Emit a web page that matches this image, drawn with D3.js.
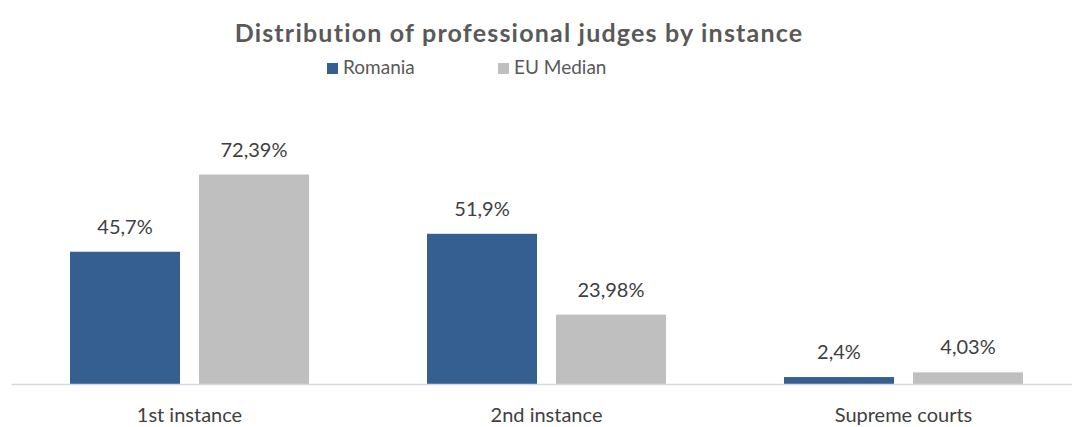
<!DOCTYPE html>
<html>
<head>
<meta charset="utf-8">
<script src="https://cdn.jsdelivr.net/npm/d3@7"></script>
<style>
  body { margin: 0; background: #fff; }
  text { font-family: Lato, "Open Sans", sans-serif; }
</style>
</head>
<body>
<div id="chart"></div>
<script>
const categories = ["1st instance", "2nd instance", "Supreme courts"];
const seriesNames = ["Romania", "EU Median"];
const romania = [45.7, 51.9, 2.4];
const euMedian = [72.39, 23.98, 4.03];
const romaniaLabels = ["45,7%", "51,9%", "2,4%"];
const euLabels = ["72,39%", "23,98%", "4,03%"];

const W = 1072, H = 427;
const colors = {"Romania": "#365f91", "EU Median": "#bfbfbf"};

const rows = categories.map((c, i) => ({
  cat: c,
  vals: [
    {key: "Romania", v: romania[i], label: romaniaLabels[i]},
    {key: "EU Median", v: euMedian[i], label: euLabels[i]}
  ]
}));

const svg = d3.select("#chart").append("svg")
  .attr("width", W).attr("height", H);

// scales
const x0 = d3.scaleBand().domain(categories).range([11, 1082]).paddingInner(0);
const x1 = d3.scaleBand().domain(seriesNames).range([59, 298]).paddingInner(0.147);
const y = d3.scaleLinear().domain([0, 80]).range([384, 384 - 80 * 2.894]);

// title
svg.append("text")
  .attr("x", 519).attr("y", 42)
  .attr("text-anchor", "middle")
  .style("font-size", "25px").style("font-weight", "bold")
  .style("letter-spacing", "1.2px")
  .style("fill", "#595959")
  .text("Distribution of professional judges by instance");

// legend
const legX = [327, 498];
const leg = svg.selectAll(".leg").data(seriesNames).enter().append("g")
  .attr("transform", (d, i) => "translate(" + legX[i] + ",63)");
leg.append("rect").attr("width", 11).attr("height", 11).attr("fill", d => colors[d]);
leg.append("text").attr("x", 16).attr("y", 11)
  .style("font-size", "19px").style("fill", "#595959")
  .text(d => d);

// bars
const groups = svg.selectAll(".grp").data(rows).enter().append("g")
  .attr("transform", d => "translate(" + x0(d.cat) + ",0)");

groups.selectAll("rect").data(d => d.vals).enter().append("rect")
  .attr("x", d => x1(d.key))
  .attr("width", x1.bandwidth())
  .attr("y", d => y(d.v))
  .attr("height", d => y(0) - y(d.v))
  .attr("fill", d => colors[d.key]);

groups.selectAll(".val").data(d => d.vals).enter().append("text")
  .attr("class", "val")
  .attr("x", d => x1(d.key) + x1.bandwidth() / 2)
  .attr("y", d => y(d.v) - 18)
  .attr("text-anchor", "middle")
  .style("font-size", "20px").style("fill", "#404040")
  .text(d => d.label);

// axis
const axis = svg.append("g").attr("transform", "translate(0," + y(0) + ")")
  .call(d3.axisBottom(x0).tickSize(0).tickPadding(24));
axis.select(".domain").attr("stroke", "#d9d9d9").attr("stroke-width", 1.5);
axis.selectAll(".tick text")
  .style("font-size", "20px").style("fill", "#404040")
  .style("font-family", "Lato, sans-serif");
</script>
</body>
</html>
